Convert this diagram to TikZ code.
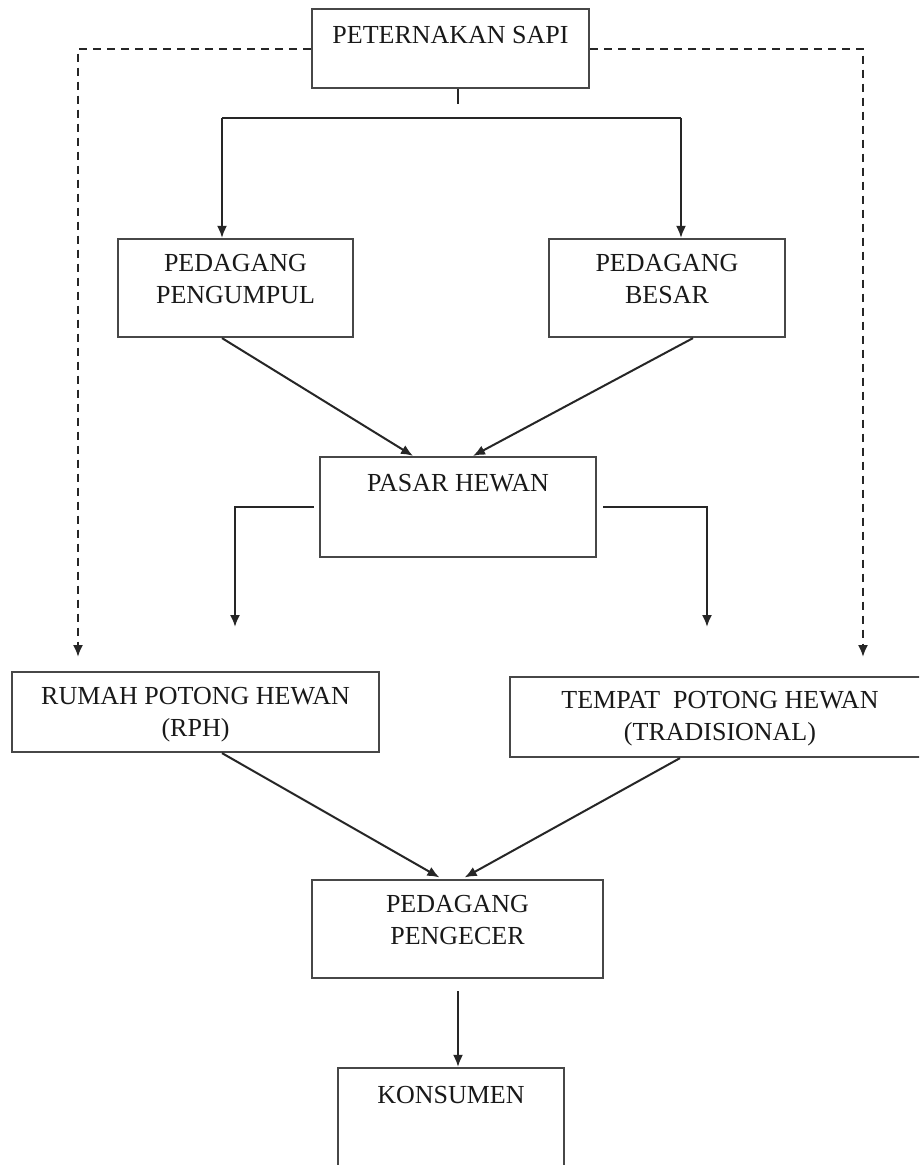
\documentclass[tikz,border=0pt]{standalone}
\usepackage{fontspec}
\setmainfont{Liberation Serif}
\usetikzlibrary{arrows.meta}

\begin{document}
\begin{tikzpicture}[x=1pt,y=-1pt,
  box/.style={draw=black!72, line width=2.2pt, inner sep=0pt},
  lbl/.style={anchor=base, align=center, text=black!90, inner sep=0pt,
    font=\fontsize{26}{31.5}\selectfont},
  conn/.style={draw=black!85, line width=2pt},
  arr/.style={conn, -{Latex[length=12pt,width=10pt]}},
  dasharr/.style={arr, dash pattern=on 8pt off 6pt}]

\useasboundingbox (0,0) rectangle (919,1165);
\fill[white] (0,0) rectangle (919,1165);
\clip (0,0) rectangle (919,1165);

% boxes
\node[box, minimum width=277pt, minimum height=79pt]  (ps)  at (450.5,48.5) {};
\node[box, minimum width=235pt, minimum height=98pt]  (pp)  at (235.5,288) {};
\node[box, minimum width=236pt, minimum height=98pt]  (pb)  at (667,288) {};
\node[box, minimum width=276pt, minimum height=100pt] (ph)  at (458,507) {};
\node[box, minimum width=367pt, minimum height=80pt]  (rph) at (195.5,712) {};
\node[box, minimum width=420pt, minimum height=80pt]  (tph) at (720,717) {};
\node[box, minimum width=291pt, minimum height=98pt]  (pe)  at (457.5,929) {};
\node[box, minimum width=226pt, minimum height=132pt] (ko)  at (451,1134) {};

% box texts (base anchor sits on the last line)
\node[lbl] (ps-t)  at (450.5,43)  {PETERNAKAN SAPI};
\node[lbl] (pp-t)  at (235.5,303) {PEDAGANG\\PENGUMPUL};
\node[lbl] (pb-t)  at (667,303)   {PEDAGANG\\BESAR};
\node[lbl] (ph-t)  at (458,491)   {PASAR HEWAN};
\node[lbl] (rph-t) at (195.5,736) {RUMAH POTONG HEWAN\\(RPH)};
\node[lbl] (tph-t) at (720,740)   {TEMPAT\ \ POTONG HEWAN\\(TRADISIONAL)};
\node[lbl] (pe-t)  at (457.5,944) {PEDAGANG\\PENGECER};
\node[lbl] (ko-t)  at (451,1103)  {KONSUMEN};

% free ends and branch points
\coordinate (lbr) at (222,118);
\coordinate (rbr) at (681,118);
\coordinate (rph-in) at (235,627);
\coordinate (tph-in) at (707,627);
\coordinate (rph-d) at (78,657);
\coordinate (tph-d) at (863,657);

% peternakan -> pedagang
\draw[conn] ([xshift=7.5]ps.south) -- ++(0,15);
\draw[conn] (lbr) -- (rbr);
\draw[arr] (lbr) -- (lbr |- pp.north);
\draw[arr] (rbr) -- (rbr |- pb.north);

% pedagang -> pasar hewan
\draw[arr] ([xshift=-13.5]pp.south) -- ([xshift=-45]ph.north);
\draw[arr] ([xshift=26]pb.south) -- ([xshift=15]ph.north);

% pasar hewan -> tempat potong
\draw[arr] ([xshift=-5]ph.west) -| (rph-in);
\draw[arr] ([xshift=6]ph.east) -| (tph-in);

% direct (dashed) routes
\draw[dasharr] (ps.west) -| (rph-d);
\draw[dasharr] (ps.east) -| (tph-d);

% tempat potong -> pengecer
\draw[arr, shorten >=3pt] ([xshift=26.5]rph.south) -- ([xshift=-15.5]pe.north);
\draw[arr, shorten >=3pt] ([xshift=-40]tph.south) -- ([xshift=4.5]pe.north);

% pengecer -> konsumen
\draw[arr] ([xshift=0.5,yshift=-12]pe.south) -- ([xshift=0.5]pe.south |- ko.north);

\end{tikzpicture}
\end{document}
